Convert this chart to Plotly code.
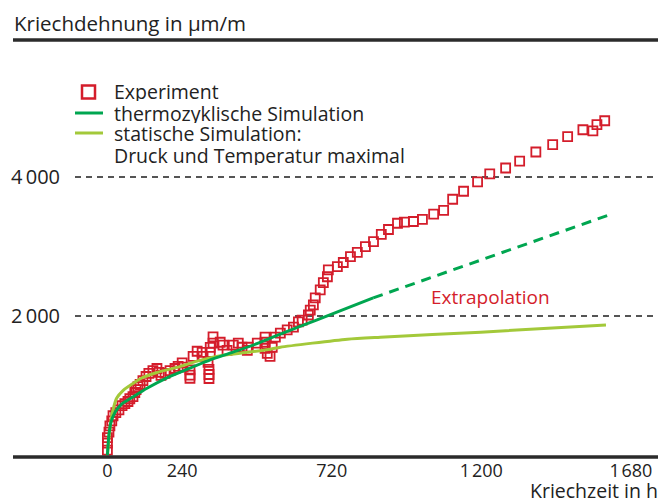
import plotly.graph_objects as go

# ---------------- data ----------------
exp_h = [0, 0, 0, 5, 8, 14, 18, 27, 37, 47, 56, 66, 72, 82, 88, 92, 98, 105, 114, 124,
         133, 146, 159, 166, 172, 185, 201, 217, 227, 240, 243, 265, 265, 265, 275, 288,
         304, 307, 323, 326, 326, 326, 330, 330, 339, 339, 362, 371, 384, 404, 420, 432,
         449, 452, 481, 506, 506, 506, 513, 522, 529, 539, 555, 577, 597, 613, 625, 645,
         651, 661, 667, 683, 693, 706, 709, 738, 757, 780, 802, 828, 854, 879, 902, 931,
         953, 982, 1011, 1047, 1079, 1108, 1143, 1188, 1227, 1278, 1323, 1375, 1429,
         1477, 1526, 1558, 1571, 1596]
exp_v = [70, 170, 250, 330, 420, 490, 565, 610, 650, 710, 740, 770, 810, 840, 900, 940,
         985, 1015, 1070, 1130, 1175, 1215, 1245, 1190, 1145, 1175, 1215, 1245, 1275, 1325,
         1265, 1225, 1150, 1105, 1420, 1493, 1478, 1420, 1333, 1232, 1159, 1101, 1550, 1478,
         1700, 1609, 1623, 1580, 1507, 1580, 1609, 1551, 1507, 1551, 1609, 1696, 1623, 1536,
         1464, 1420, 1551, 1696, 1754, 1800, 1840, 1915, 1940, 2015, 2085, 2160, 2260, 2375,
         2480, 2565, 2665, 2710, 2770, 2855, 2915, 3000, 3070, 3175, 3245, 3335, 3350, 3360,
         3390, 3465, 3520, 3680, 3795, 3930, 4045, 4130, 4230, 4360, 4465, 4580, 4680, 4665,
         4755, 4810]

thermo_h = [0, 5, 12, 25, 45, 80, 127, 191, 265, 330, 403, 490, 555, 673, 853]
thermo_v = [0, 300, 480, 620, 730, 830, 960, 1110, 1250, 1370, 1480, 1620, 1740, 1945, 2261]

extra_h = [853, 1616]
extra_v = [2261, 3464]

static_h = [0, 4, 10, 18, 30, 50, 82, 114, 159, 223, 297, 371, 449, 523, 555, 770, 876, 1198, 1600]
static_v = [0, 200, 450, 650, 820, 928, 1029, 1116, 1188, 1261, 1362, 1435, 1478, 1522, 1551,
            1667, 1696, 1768, 1870]

x_ticks = [0, 240, 720, 1200, 1680]
x_labels = ["0", "240", "720", "1\u200a200", "1\u200a680"]
y_ticks = [2000, 4000]
y_labels = ["2\u2009000", "4\u2009000"]

legend_names = ["Experiment", "thermozyklische Simulation", "statische Simulation:",
                "Druck und Temperatur maximal"]

# ---------------- style ----------------
RED = "#d41d2b"
DGREEN = "#00a650"
LGREEN = "#a3c93a"
TXT = "#222222"
FONT = "Open Sans"

OFF = 8  # page offset of the figure (body margin)
W, H = 671, 504
L, T = 67, 31
R = W - (658 - OFF)
B = H - (456 - OFF)
PW, PH = W - L - R, H - T - B


def px(xp):
    """page x pixel -> paper coordinate"""
    return (xp - OFF - L) / PW


def py(yp):
    """page y pixel -> paper coordinate"""
    return (H - B - (yp - OFF)) / PH


fig = go.Figure()

fig.add_trace(go.Scatter(x=exp_h, y=exp_v, mode="markers", name=legend_names[0],
                         marker=dict(symbol="square-open", size=9, color=RED,
                                     line=dict(width=1.8, color=RED)),
                         showlegend=False))
fig.add_trace(go.Scatter(x=static_h, y=static_v, mode="lines", name=legend_names[2],
                         line=dict(color=LGREEN, width=3, shape="spline", smoothing=0.6),
                         showlegend=False))
fig.add_trace(go.Scatter(x=thermo_h, y=thermo_v, mode="lines", name=legend_names[1],
                         line=dict(color=DGREEN, width=3, shape="spline", smoothing=0.6),
                         showlegend=False))
fig.add_trace(go.Scatter(x=extra_h, y=extra_v, mode="lines", name="Extrapolation",
                         line=dict(color=DGREEN, width=3, dash="10px,7px"),
                         showlegend=False))

shapes = [
    dict(type="line", xref="paper", yref="paper", x0=px(13), x1=px(658), y0=py(40), y1=py(40),
         line=dict(color="#2b2b2b", width=3.5)),
    dict(type="line", xref="paper", yref="paper", x0=px(13), x1=px(658), y0=py(457), y1=py(457),
         line=dict(color="#2b2b2b", width=3.5)),
    dict(type="rect", xref="paper", yref="paper", x0=px(82), x1=px(95), y0=py(98.5), y1=py(85.5),
         line=dict(color=RED, width=2.5), fillcolor="white"),
    dict(type="line", xref="paper", yref="paper", x0=px(75), x1=px(103), y0=py(113), y1=py(113),
         line=dict(color=DGREEN, width=3)),
    dict(type="line", xref="paper", yref="paper", x0=px(75), x1=px(103), y0=py(133), y1=py(133),
         line=dict(color=LGREEN, width=3)),
]

annotations = [
    dict(text="Kriechdehnung in µm/m", xref="paper", yref="paper", x=px(12), y=py(22.5),
         xanchor="left", yanchor="middle", showarrow=False,
         font=dict(size=20.5, color=TXT)),
    dict(text="Kriechzeit in h", xref="paper", yref="paper", x=px(660), y=py(490),
         xanchor="right", yanchor="middle", showarrow=False,
         font=dict(size=19.5, color=TXT)),
    dict(text="Extrapolation", xref="x", yref="y", x=1231, y=2273,
         xanchor="center", yanchor="middle", showarrow=False, font=dict(size=19, color=RED)),
]
for name, yy in zip(legend_names, [91, 113, 133, 155]):
    annotations.append(dict(text=name, xref="paper", yref="paper", x=px(112), y=py(yy),
                            xanchor="left", yanchor="middle", showarrow=False, height=20,
                            font=dict(size=19.5, color=TXT)))

fig.update_layout(
    width=W, height=H,
    margin=dict(l=L, r=R, t=T, b=B, pad=0, autoexpand=False),
    paper_bgcolor="white", plot_bgcolor="white",
    font=dict(family=FONT, size=19, color=TXT),
    showlegend=False,
    shapes=shapes, annotations=annotations,
    xaxis=dict(range=[-104, 1767], tickvals=x_ticks, ticktext=x_labels, showgrid=False,
               zeroline=False, showline=False, ticks="", ticklabelstandoff=2,
               automargin=False,
               tickfont=dict(size=18, color=TXT), fixedrange=True),
    yaxis=dict(range=[-14, 5986], tickvals=y_ticks, ticktext=y_labels, showgrid=True,
               gridcolor="#555555", gridwidth=1.5, griddash="6px,5px",
               zeroline=False, showline=False, ticks="", ticklabelstandoff=14,
               automargin=False,
               tickfont=dict(size=20, color=TXT), fixedrange=True),
)

fig.write_html("out.html")
